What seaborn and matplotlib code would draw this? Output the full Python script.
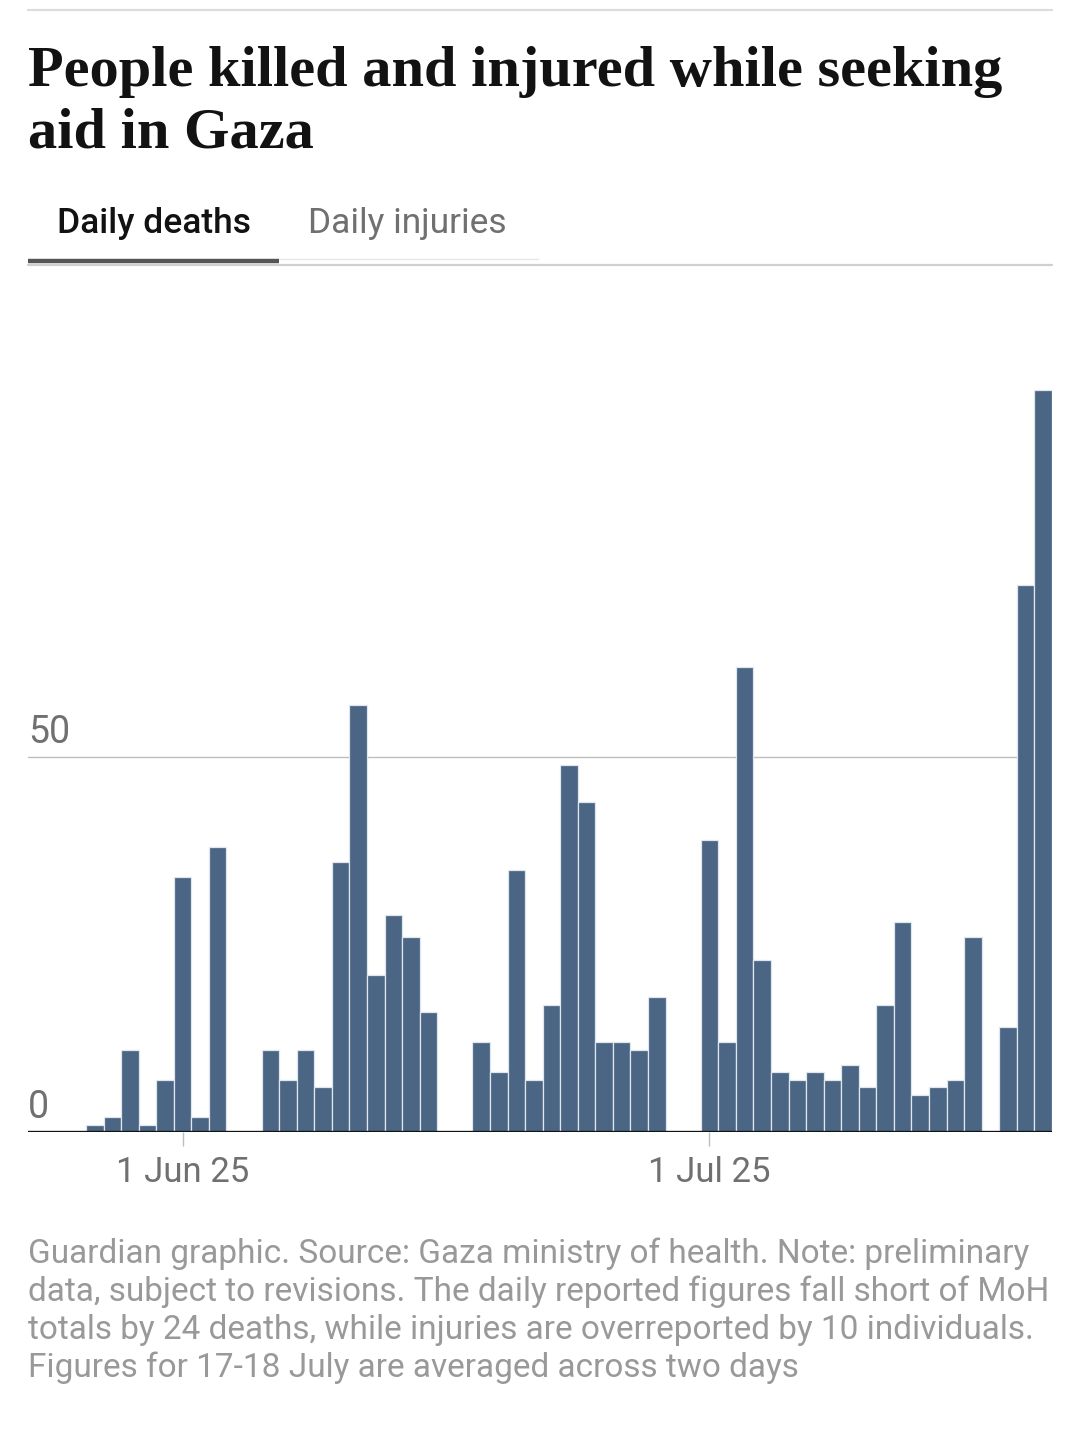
import pandas as pd
import seaborn as sns
import matplotlib.pyplot as plt
import matplotlib.transforms as mtransforms
from matplotlib.lines import Line2D

# daily deaths (days with no report are left out)
dates = [
    "2025-05-27", "2025-05-28", "2025-05-29", "2025-05-30", "2025-05-31",
    "2025-06-01", "2025-06-02", "2025-06-03",
    "2025-06-06", "2025-06-07", "2025-06-08", "2025-06-09", "2025-06-10",
    "2025-06-11", "2025-06-12", "2025-06-13", "2025-06-14", "2025-06-15",
    "2025-06-18", "2025-06-19", "2025-06-20", "2025-06-21", "2025-06-22",
    "2025-06-23", "2025-06-24", "2025-06-25", "2025-06-26", "2025-06-27",
    "2025-06-28",
    "2025-07-01", "2025-07-02", "2025-07-03", "2025-07-04", "2025-07-05",
    "2025-07-06", "2025-07-07", "2025-07-08", "2025-07-09", "2025-07-10",
    "2025-07-11", "2025-07-12", "2025-07-13", "2025-07-14", "2025-07-15",
    "2025-07-16",
    "2025-07-18", "2025-07-19", "2025-07-20",
]
deaths = [
    1, 2, 11, 1, 7,
    34, 2, 38,
    11, 7, 11, 6, 36,
    57, 21, 29, 26, 16,
    12, 8, 35, 7, 17,
    49, 44, 12, 12, 11,
    18,
    39, 12, 62, 23, 8,
    7, 8, 7, 9, 6,
    17, 28, 5, 6, 7,
    26,
    14, 73, 99,
]
y_ticks = [0, 50]
x_tick_dates = ["2025-06-01", "2025-07-01"]
x_tick_labels = ["1 Jun 25", "1 Jul 25"]

ref = pd.Timestamp("2025-06-01")
df = pd.DataFrame({"date": pd.to_datetime(dates), "deaths": deaths})
df["day"] = (df["date"] - ref).dt.days

sns.set_theme(style="white")
plt.rcParams["font.family"] = ["Roboto", "DejaVu Sans"]

W, H = 1080, 1447
fig = plt.figure(figsize=(W / 100, H / 100), dpi=100)
fig.patch.set_facecolor("white")

def fx(px):
    return px / W

def fy(py):
    return 1 - py / H

# top rule
fig.add_artist(Line2D([fx(28), fx(1052)], [fy(10), fy(10)], color="#dcdcdc", lw=1.6))

# title
serif = ["Liberation Serif", "DejaVu Serif"]
fig.text(fx(28), fy(86), "People killed and injured while seeking", fontsize=42,
         fontweight="bold", family=serif, color="#121212", va="baseline")
fig.text(fx(28), fy(148), "aid in Gaza", fontsize=42,
         fontweight="bold", family=serif, color="#121212", va="baseline")

# tabs
fig.text(fx(57), fy(233), "Daily deaths", fontsize=25.5, fontweight="medium", color="#121212", va="baseline")
fig.text(fx(308), fy(233), "Daily injuries", fontsize=25.5, color="#707070", va="baseline")
fig.add_artist(Line2D([fx(279), fx(538)], [fy(259), fy(259)], color="#e6e6e6", lw=1.0))
fig.add_artist(Line2D([fx(28), fx(1052)], [fy(265), fy(265)], color="#d0d0d0", lw=1.6))
fig.add_artist(Line2D([fx(28), fx(279)], [fy(261), fy(261)], color="#555555", lw=3.2,
                      solid_capstyle="butt"))

# chart
ax = fig.add_axes([fx(28), fy(1132), fx(1052) - fx(28), fy(300) - fy(1132)])
sns.barplot(data=df, x="day", y="deaths", native_scale=True, width=1, color="#4b6584",
            saturation=1, edgecolor="#dfe6ee", linewidth=0.9, errorbar=None, ax=ax, zorder=3)

ax.set_xlim(-8.8, 49.5)
ax.set_ylim(0, 111)
for s in ax.spines.values():
    s.set_visible(False)
ax.set_xlabel("")
ax.set_ylabel("")

ax.set_yticks(y_ticks)
ax.set_yticklabels([])
ax.tick_params(axis="y", length=0)
ax.yaxis.grid(True, color="#bdbdbd", lw=1.0)
ax.set_axisbelow(True)
ax.axhline(0, color="#121212", lw=2.4, zorder=4)

label_tr = mtransforms.offset_copy(ax.get_yaxis_transform(), fig=fig, x=0, y=14, units="dots")
for v in y_ticks:
    ax.text(0, v, str(v), transform=label_tr, fontsize=27, color="#707070",
            ha="left", va="baseline")

ax.set_xticks([(pd.Timestamp(d) - ref).days for d in x_tick_dates])
ax.set_xticklabels(x_tick_labels, fontsize=25, color="#707070")
ax.tick_params(axis="x", length=10, width=1, color="#bdbdbd", pad=7, bottom=True)

# footer
notes = [
    "Guardian graphic. Source: Gaza ministry of health. Note: preliminary",
    "data, subject to revisions. The daily reported figures fall short of MoH",
    "totals by 24 deaths, while injuries are overreported by 10 individuals.",
    "Figures for 17-18 July are averaged across two days",
]
for i, line in enumerate(notes):
    fig.text(fx(28), fy(1263 + 38 * i), line, fontsize=24, color="#999999", va="baseline")

fig.savefig("out.png", dpi=100)
